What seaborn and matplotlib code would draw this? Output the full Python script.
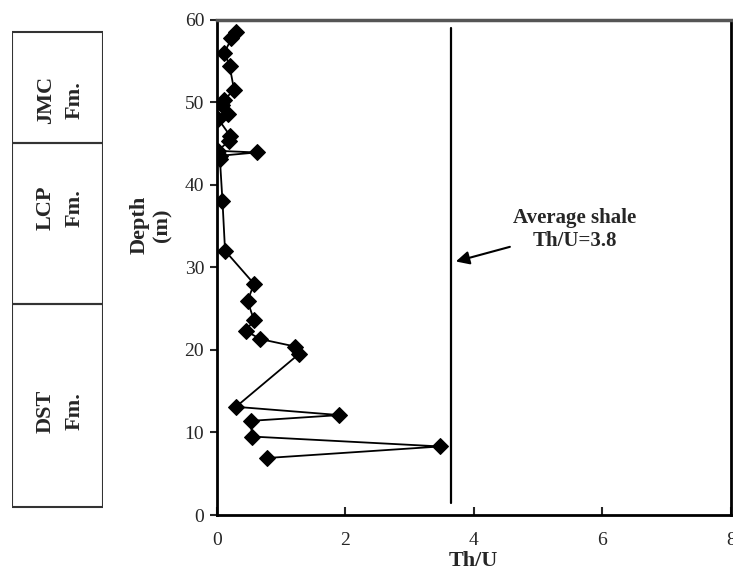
import numpy as np
import pandas as pd
import matplotlib
matplotlib.use("Agg")
import matplotlib.pyplot as plt
import seaborn as sns

# Th/U profile (top of section first)
depth = [58.5, 57.7, 56.0, 54.4, 51.5, 50.2, 49.6, 48.6, 48.0, 45.9, 45.3,
         44.1, 43.9, 43.5, 43.1, 38.0, 32.0, 28.0, 25.9, 23.6, 22.3, 21.3,
         20.4, 19.5, 13.1, 12.1, 11.4, 9.5, 8.3, 6.9]
thu = [0.30, 0.23, 0.12, 0.20, 0.27, 0.11, 0.08, 0.18, 0.02, 0.21, 0.19,
       0.02, 0.62, 0.05, 0.05, 0.09, 0.13, 0.58, 0.48, 0.58, 0.45, 0.68,
       1.22, 1.28, 0.30, 1.91, 0.53, 0.55, 3.48, 0.78]

# formation column
fm_names = ["DST\nFm.", "LCP\nFm.", "JMC\nFm."]
fm_bottom = [1.0, 25.5, 45.1]
fm_top = [25.5, 45.1, 58.5]
fm_label_depth = [12.6, 37.2, 50.2]

shale_x = 3.65
shale_depth = [1.45, 59.0]

sns.set_style("ticks")
plt.rcParams['font.family'] = ['Liberation Serif', 'DejaVu Serif']

fig = plt.figure(figsize=(7.33, 5.74), dpi=100)
W, H = 733, 574
left, right, top, bottom = 216.7, 731.0, 19.5, 515.0
ax = fig.add_axes([left / W, 1 - bottom / H, (right - left) / W, (bottom - top) / H])

df = pd.DataFrame({"Th/U": thu, "Depth": depth})
sns.lineplot(data=df, x="Th/U", y="Depth", sort=False, estimator=None,
             errorbar=None, color="black", linewidth=1.3, marker="D",
             markersize=8, markeredgecolor="black", ax=ax)

# average shale line
ax.plot([shale_x, shale_x], shale_depth, color="black", linewidth=1.6)
ax.annotate("Average shale\nTh/U=3.8", xy=(3.72, 30.7), xytext=(5.57, 34.6),
            ha="center", va="center", fontsize=15, fontweight="bold",
            arrowprops=dict(arrowstyle="-|>", color="black", lw=1.5,
                            mutation_scale=20, shrinkA=62, shrinkB=0))

ax.set_xlim(0, 8)
ax.set_ylim(0, 60)
ax.set_xticks([0, 2, 4, 6, 8])
ax.set_yticks(range(0, 61, 10))
ax.tick_params(axis="x", direction="in", length=6, width=1.5, pad=12, labelsize=14)
ax.tick_params(axis="y", direction="out", length=5, width=1.5, pad=4, labelsize=14)
for s in ["left", "bottom", "right"]:
    ax.spines[s].set_linewidth(2)
    ax.spines[s].set_color("black")
ax.spines["top"].set_linewidth(2.5)
ax.spines["top"].set_color("#555555")

ax.set_xlabel("Th/U", fontsize=16, fontweight="bold", labelpad=2)
ax.set_ylabel("Depth\n(m)", fontsize=16, fontweight="bold")
ax.yaxis.set_label_coords(-0.127, 0.585)
ax.yaxis.label.set_verticalalignment("center")

# formation column at left
ax_fm = fig.add_axes([11.7 / W, 1 - bottom / H, (103.3 - 11.7) / W, (bottom - top) / H])
ax_fm.bar(x=[0, 0, 0], height=np.array(fm_top) - np.array(fm_bottom),
          bottom=fm_bottom, width=1, fill=False, edgecolor="#333333", linewidth=1.5)
for name, yd in zip(fm_names, fm_label_depth):
    ax_fm.text(0.03, yd, name, rotation=90, ha="center", va="center",
               fontsize=16, fontweight="bold", linespacing=1.6)
ax_fm.set_xlim(-0.5, 0.5)
ax_fm.set_ylim(0, 60)
ax_fm.axis("off")

fig.savefig("out.png", dpi=100)
